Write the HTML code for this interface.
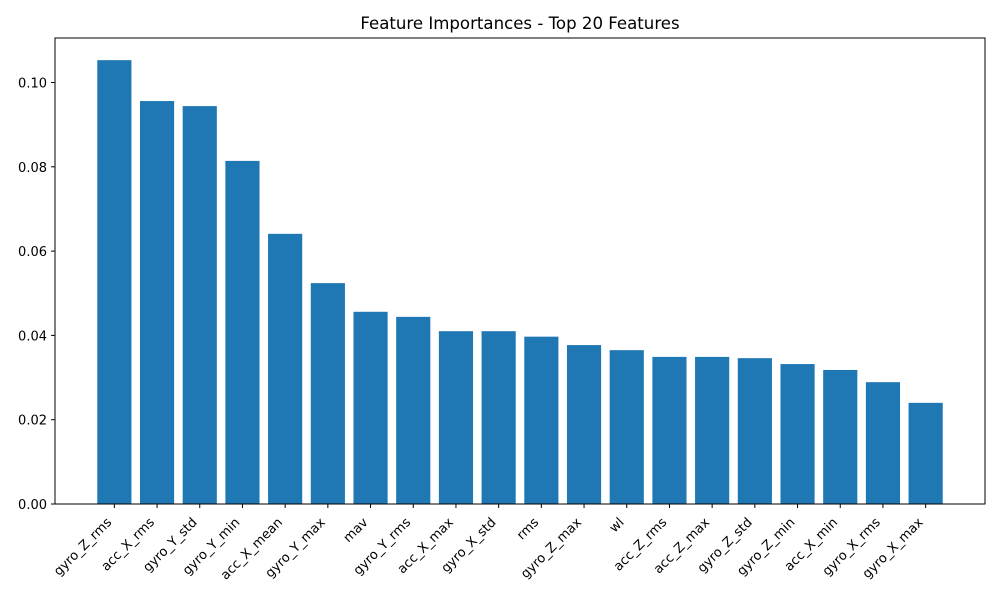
<!DOCTYPE html>
<html><head><meta charset="utf-8"><style>
body{margin:0;background:#fff;}
svg text{font-family:"DejaVu Sans","Liberation Sans",sans-serif;fill:#000;}
</style></head><body>
<svg id="chart" width="1000" height="600" xmlns="http://www.w3.org/2000/svg">
<rect width="1000" height="600" fill="#fff"/>
<text x="520" y="29" font-size="16.6" text-anchor="middle">Feature Importances - Top 20 Features</text>
<g id="bars"></g><g id="yticks"></g><g id="xticks"></g>
<rect x="55" y="38" width="930" height="466" fill="none" stroke="#000" stroke-width="1"/>
</svg>
<script>
const categories=["gyro_Z_rms","acc_X_rms","gyro_Y_std","gyro_Y_min","acc_X_mean","gyro_Y_max","mav","gyro_Y_rms","acc_X_max","gyro_X_std","rms","gyro_Z_max","wl","acc_Z_rms","acc_Z_max","gyro_Z_std","gyro_Z_min","acc_X_min","gyro_X_rms","gyro_X_max"];
const values=[0.1053,0.0956,0.0944,0.0814,0.0641,0.0524,0.0456,0.0444,0.0410,0.0410,0.0397,0.0377,0.0365,0.0349,0.0349,0.0346,0.0332,0.0318,0.0289,0.0240];
const yTicks=[0,0.02,0.04,0.06,0.08,0.10];
const yTickLabels=["0.00","0.02","0.04","0.06","0.08","0.10"];
const NS="http://www.w3.org/2000/svg";
const L=55,R=985,T=38,B=504;
const n=categories.length;
const xmin=-0.4-0.05*(n-1+0.8),xmax=n-1+0.4+0.05*(n-1+0.8);
const xs=v=>L+(v-xmin)/(xmax-xmin)*(R-L);
const ys=v=>B-v*4215;
const bw=xs(0.8)-xs(0);
const gb=document.getElementById('bars'),gy=document.getElementById('yticks'),gx=document.getElementById('xticks');
function mk(t,a){const e=document.createElementNS(NS,t);for(const k in a)e.setAttribute(k,a[k]);return e;}
values.forEach((v,i)=>{
 const r=mk('rect',{x:xs(i)-bw/2,y:ys(v),width:bw,height:B-ys(v),fill:'#1f77b4'});
 
 
 gb.appendChild(r);
 const tk=mk('line',{x1:xs(i),x2:xs(i),y1:B,y2:B+4,stroke:'#000'});
 
 
 gx.appendChild(tk);
 const tx=xs(i)-2,ty=B+19;
 const t=mk('text',{x:tx,y:ty,'font-size':13,'text-anchor':'end',transform:`rotate(-45 ${tx} ${ty})`});
 t.textContent=categories[i];
 
 
 gx.appendChild(t);
});
yTicks.forEach((v,i)=>{
 const y=ys(v);
 const tk=mk('line',{x1:L-4,x2:L,y1:y,y2:y,stroke:'#000'});
 
 
 gy.appendChild(tk);
 const t=mk('text',{x:L-8,y:y+5,'font-size':13,'text-anchor':'end'});
 t.textContent=yTickLabels[i];
 
 
 gy.appendChild(t);
});
</script>
</body></html>
